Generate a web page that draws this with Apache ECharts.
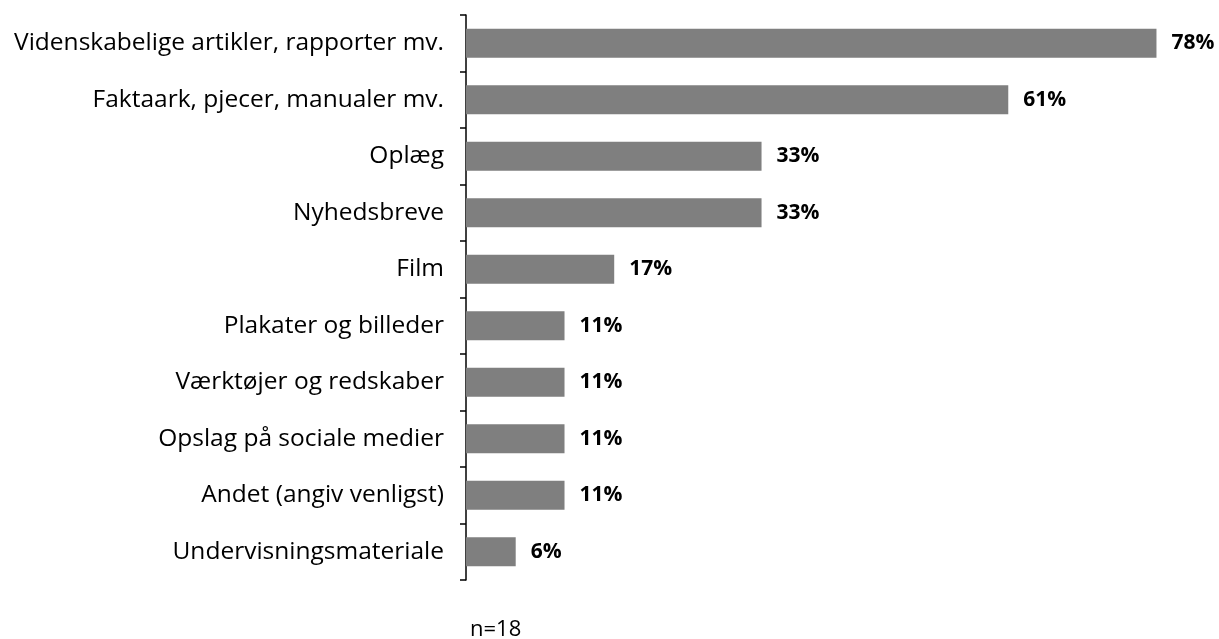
<!DOCTYPE html>
<html>
<head>
<meta charset="utf-8">
<script src="https://cdn.jsdelivr.net/npm/echarts@6/dist/echarts.min.js"></script>
<style>
  html, body { margin: 0; padding: 0; background: #fff; }
  #chart-container { width: 1219px; height: 639px; }
</style>
</head>
<body>
<div id="chart-container"></div>
<script>
// categories, top to bottom as in the picture
const categories = [
  "Videnskabelige artikler, rapporter mv.",
  "Faktaark, pjecer, manualer mv.",
  "Oplæg",
  "Nyhedsbreve",
  "Film",
  "Plakater og billeder",
  "Værktøjer og redskaber",
  "Opslag på sociale medier",
  "Andet (angiv venligst)",
  "Undervisningsmateriale",
];
// share of respondents, percent (n=18)
const values = [77.8, 61.1, 33.3, 33.3, 16.7, 11.1, 11.1, 11.1, 11.1, 5.6];
const note = "n=18";

let dom = document.getElementById("chart-container");
let myChart = echarts.init(dom, null, { renderer: "canvas" });

const fontFamily = "'Open Sans', sans-serif";

let option = {
  animation: false,
  grid: { left: 466, right: 43, top: 15, bottom: 59 },
  xAxis: {
    type: "value",
    min: 0,
    max: 80,
    show: false,
  },
  yAxis: {
    type: "category",
    inverse: true,
    data: categories,
    axisLine: { show: true, lineStyle: { color: "#000", width: 1.5 } },
    axisTick: { show: true, length: 6, lineStyle: { color: "#000", width: 1.5 } },
    axisLabel: {
      color: "#000",
      fontSize: 24.5,
      fontFamily: fontFamily,
      margin: 22,
    },
  },
  graphic: [
    {
      type: "text",
      left: 470,
      top: 619,
      style: { text: note, fontSize: 22, fontFamily: fontFamily, fill: "#000" },
    },
  ],
  series: [
    {
      type: "bar",
      data: values,
      barWidth: 29,
      itemStyle: { color: "#7f7f7f" },
      label: {
        show: true,
        position: "right",
        distance: 15,
        color: "#000",
        fontWeight: "bold",
        fontSize: 21,
        fontFamily: fontFamily,
        formatter: (p) => Math.round(p.value) + "%",
      },
    },
  ],
};

myChart.setOption(option);
window.addEventListener("resize", myChart.resize);
</script>
</body>
</html>
